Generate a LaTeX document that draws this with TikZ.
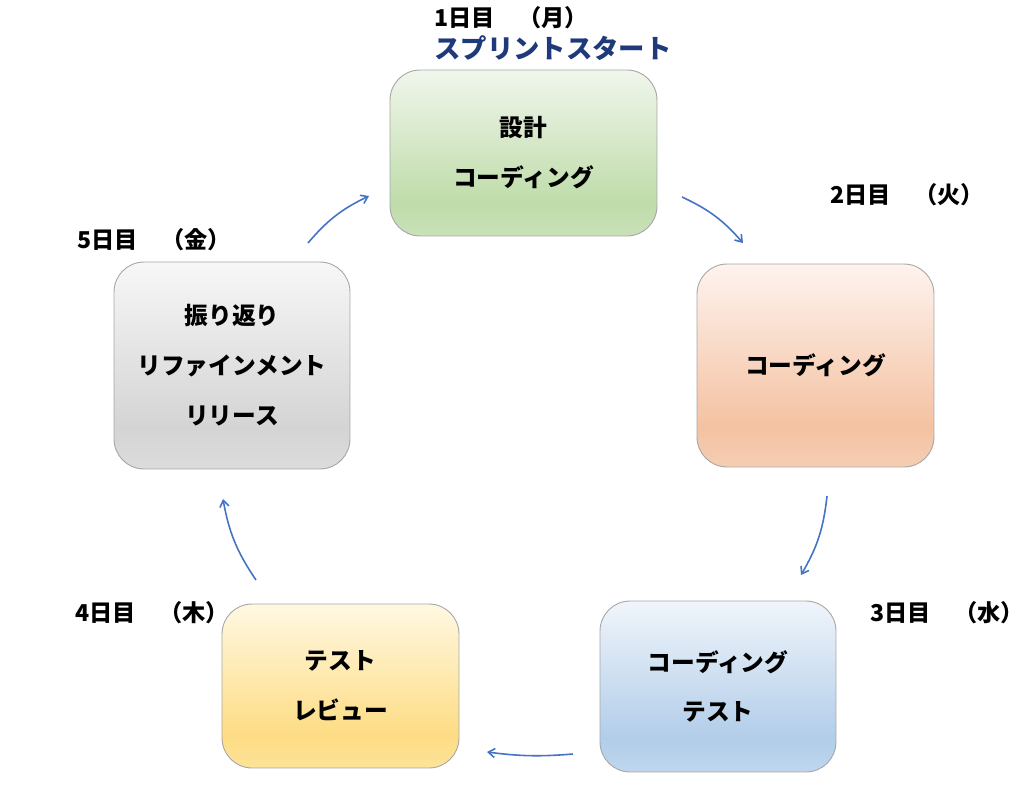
\documentclass[tikz,border=0pt]{standalone}
\usepackage{fontspec}
\setmainfont{Noto Sans CJK JP}
\usepackage{tikz}
\usetikzlibrary{arrows.meta,positioning}

\definecolor{arrowblue}{HTML}{4472C4}
\definecolor{titlenavy}{HTML}{1F3A7A}
\definecolor{boxline}{HTML}{A6A6A6}
% box colours: top, full, bottom edge
\definecolor{greenT}{HTML}{F0F6EC}\definecolor{greenB}{HTML}{BFDCAA}\definecolor{greenL}{HTML}{C9E1B8}
\definecolor{orangeT}{HTML}{FEF3EE}\definecolor{orangeB}{HTML}{F4C2A2}\definecolor{orangeL}{HTML}{F6CDB3}
\definecolor{blueT}{HTML}{F0F5FB}\definecolor{blueB}{HTML}{B2CDE9}\definecolor{blueL}{HTML}{BFD6EE}
\definecolor{yellowT}{HTML}{FFF8E2}\definecolor{yellowB}{HTML}{FDDC84}\definecolor{yellowL}{HTML}{FDE399}
\definecolor{greyT}{HTML}{F7F7F7}\definecolor{greyB}{HTML}{D4D4D4}\definecolor{greyL}{HTML}{DCDCDC}

\newcommand{\mkshade}[1]{%
  \pgfdeclareverticalshading{#1shade}{100bp}{color(0bp)=(#1L); color(25bp)=(#1L);
    color(35bp)=(#1B); color(75bp)=(#1T); color(100bp)=(#1T)}}
\mkshade{green}\mkshade{orange}\mkshade{blue}\mkshade{yellow}\mkshade{grey}

\tikzset{
  daybox/.style={draw=boxline,line width=0.5pt,rounded corners=0.6cm,align=center,
    font=\fontsize{13.5}{28.4}\selectfont\bfseries},
  daylabel/.style={anchor=west,inner sep=0pt,font=\fontsize{13.2}{15}\selectfont\bfseries},
  flow/.style={arrowblue,line width=0.9pt,-{Straight Barb[angle=70:4.5pt]}}
}

\begin{document}
\begin{tikzpicture}[x=0.02cm,y=0.02cm]
\useasboundingbox (0,0) rectangle (1024,-791);
% boxes
\node[daybox,shading=greenshade,minimum width=5.34cm,minimum height=3.32cm] (mon) at (523.5,-153) {設計\\コーディング};
\node[daybox,shading=orangeshade,minimum width=4.74cm,minimum height=4.06cm] (tue) at (815.5,-365.5) {コーディング};
\node[daybox,shading=blueshade,minimum width=4.72cm,minimum height=3.42cm] (wed) at (718,-686.5) {コーディング\\テスト};
\node[daybox,shading=yellowshade,minimum width=4.74cm,minimum height=3.28cm] (thu) at (340.5,-686) {テスト\\レビュー};
\node[daybox,shading=greyshade,minimum width=4.72cm,minimum height=4.14cm] (fri) at (232,-365.5) {振り返り\\リファインメント\\リリース};
% labels
\node[daylabel] (monlbl) at (434,-18) {1日目　（月）};
\node[daylabel,font=\fontsize{15}{17}\selectfont\bfseries,text=titlenavy] (start) at (434,-48) {スプリントスタート};
\node[daylabel] (tuelbl) at (830,-195) {2日目　（火）};
\node[daylabel] (wedlbl) at (870,-613) {3日目　（水）};
\node[daylabel] (thulbl) at (75,-613) {4日目　（木）};
\node[daylabel] (frilbl) at (77,-240) {5日目　（金）};
% arrows
\coordinate (a1) at (682,-197); \coordinate (b1) at (743,-243);
\coordinate (a2) at (827,-496); \coordinate (b2) at (801,-575);
\coordinate (a3) at (573,-754); \coordinate (b3) at (487,-752);
\coordinate (a4) at (256,-580); \coordinate (b4) at (223,-499);
\coordinate (a5) at (308,-243); \coordinate (b5) at (369,-196);
\draw[flow] (a1) to[bend left=12] (b1);
\draw[flow] (a2) to[bend left=12] (b2);
\draw[flow] (a3) to[bend left=6] (b3);
\draw[flow] (a4) to[bend left=12] (b4);
\draw[flow] (a5) to[bend left=12] (b5);
\end{tikzpicture}
\end{document}
